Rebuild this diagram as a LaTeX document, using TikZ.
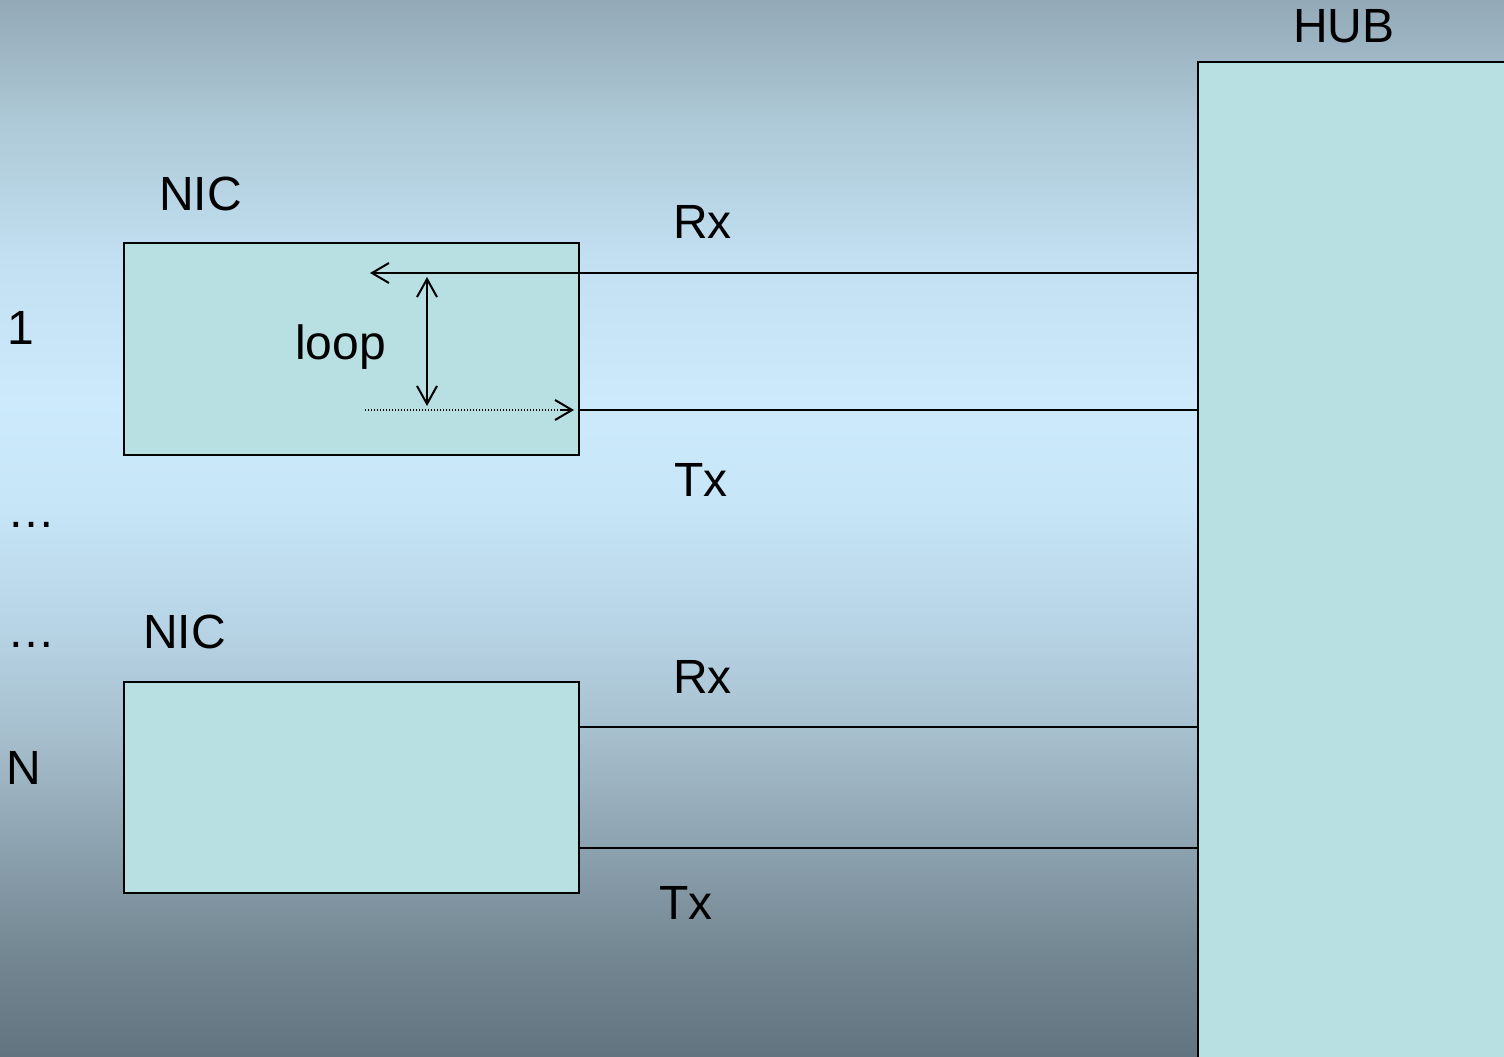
\documentclass[tikz,border=0pt]{standalone}
\usepackage{fontspec}
\setmainfont{Liberation Sans}
\usetikzlibrary{arrows.meta}
\definecolor{boxfill}{HTML}{B8DFE2}
\definecolor{g0}{HTML}{93A9B8}
\definecolor{g1}{HTML}{ADC8D6}
\definecolor{g2}{HTML}{C2E0F2}
\definecolor{g3}{HTML}{CCEAFC}
\definecolor{g4}{HTML}{C7E6F8}
\definecolor{g5}{HTML}{B8D5E7}
\definecolor{g6}{HTML}{A9C2D1}
\definecolor{g7}{HTML}{98AEBC}
\definecolor{g8}{HTML}{748893}
\definecolor{g9}{HTML}{627480}
\tikzset{
  lbl/.style={anchor=base west, inner sep=0pt, font=\fontsize{48}{57}\selectfont},
  box/.style={draw=black, line width=2pt, fill=boxfill, rectangle, inner sep=0pt},
  wire/.style={line width=2pt},
  tip/.style={-{Straight Barb[length=17pt,width=20pt,line width=2pt]}},
}
\begin{document}
\begin{tikzpicture}[x=1pt,y=-1pt]
\useasboundingbox (0,0) rectangle (1504,1057);
\begin{scope}
\clip (0,0) rectangle (1504,1057);
% background gradient
\shade[top color=g0,bottom color=g1] (0,0) rectangle (1504,120.5);
\shade[top color=g1,bottom color=g2] (0,120) rectangle (1504,260.5);
\shade[top color=g2,bottom color=g3] (0,260) rectangle (1504,400.5);
\shade[top color=g3,bottom color=g4] (0,400) rectangle (1504,500.5);
\shade[top color=g4,bottom color=g5] (0,500) rectangle (1504,620.5);
\shade[top color=g5,bottom color=g6] (0,620) rectangle (1504,720.5);
\shade[top color=g6,bottom color=g7] (0,720) rectangle (1504,800.5);
\shade[top color=g7,bottom color=g8] (0,800) rectangle (1504,950.5);
\shade[top color=g8,bottom color=g9] (0,950) rectangle (1504,1057);
% boxes
\node[box, minimum width=320pt, minimum height=1010pt] (hub) at (1358,567) {};
\node[box, minimum width=455pt, minimum height=212pt] (nic1) at (351,349) {};
\node[box, minimum width=455pt, minimum height=211pt] (nic2) at (351,787.5) {};
\end{scope}
% labels
\node[lbl] (hubl) at (1293,43) {HUB};
\node[lbl] (nic1l) at (159,210) {NIC};
\node[lbl] (nic2l) at (143,648) {NIC};
\node[lbl] (one) at (7,344) {1};
\node[lbl] (dots1) at (7,527) {…};
\node[lbl] (dots2) at (7,647) {…};
\node[lbl] (enn) at (6,784) {N};
\node[lbl] (rx1) at (673,238) {Rx};
\node[lbl] (tx1) at (674,496) {Tx};
\node[lbl] (rx2) at (673,693) {Rx};
\node[lbl] (tx2) at (659,919) {Tx};
\node[lbl] (loopl) at (295,359) {loop};
% connectors
\coordinate (rxend) at (370,273);
\coordinate (txstart) at (365,410);
\coordinate (txtip) at (574,410);
\coordinate (looptop) at (427,277);
\coordinate (loopbot) at (427,406);
\draw[wire, tip] (hub.west |- rxend) -- (rxend);
\draw[wire] (nic1.east |- txtip) -- (hub.west |- txtip);
\draw[line width=1.3pt, dash pattern=on 1.4pt off 1.6pt] (txstart) -- (560,410);
\draw[line width=1.3pt, -{Straight Barb[length=17pt,width=20pt,line width=2pt]}] (560,410) -- (txtip);
\draw[wire, {Straight Barb[length=18pt,width=20pt,line width=2pt]}-{Straight Barb[length=18pt,width=20pt,line width=2pt]}] (looptop) -- (loopbot);
\draw[wire] (nic2.east |- 0,727) -- (hub.west |- 0,727);
\draw[wire] (nic2.east |- 0,848) -- (hub.west |- 0,848);
\end{tikzpicture}
\end{document}
